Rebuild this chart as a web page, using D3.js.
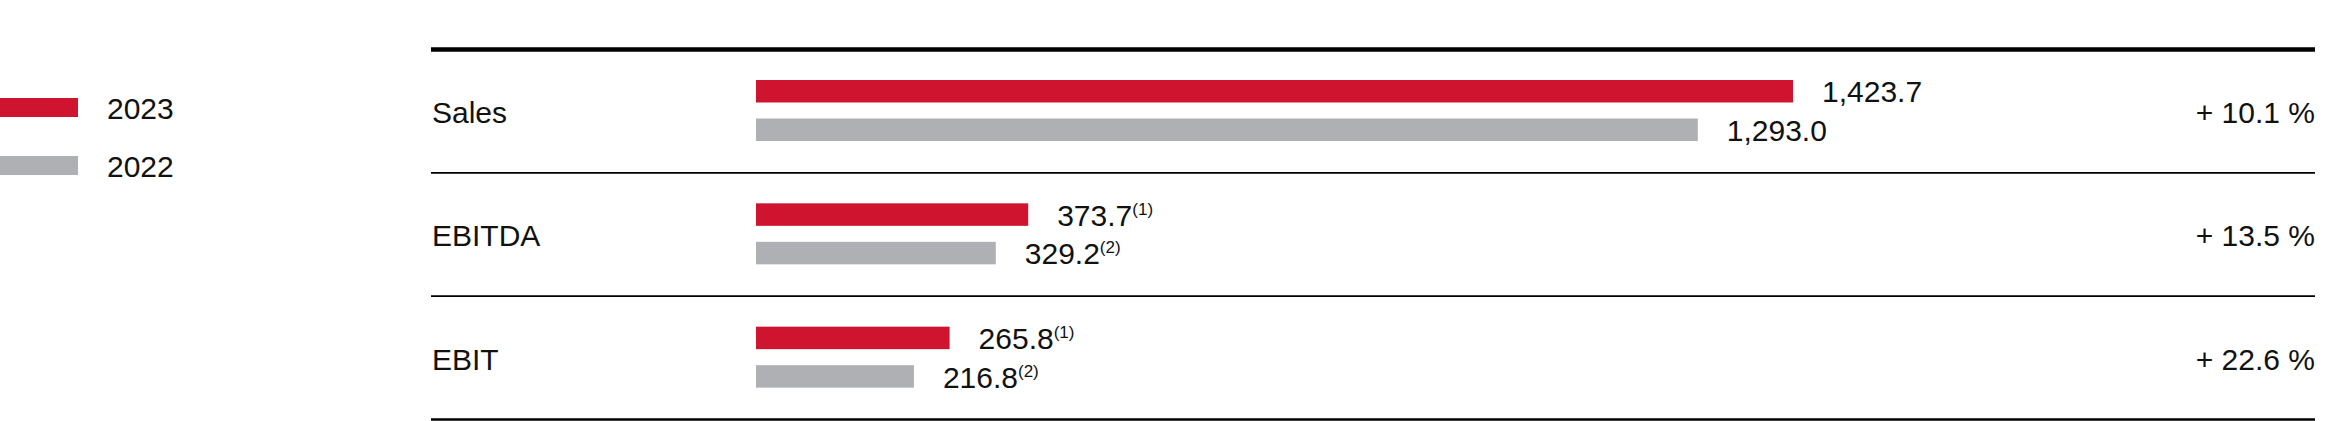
<!DOCTYPE html>
<html>
<head>
<meta charset="utf-8">
<script src="https://cdn.jsdelivr.net/npm/d3@7"></script>
<style>
  body { margin: 0; background: #fff; }
  text { font-family: "Liberation Sans", Arial, sans-serif; fill: #111; }
</style>
</head>
<body>
<svg id="chart"></svg>
<script>
const categories = ["Sales", "EBITDA", "EBIT"];
const years = ["2023", "2022"];
const values2023 = [1423.7, 373.7, 265.8];
const values2022 = [1293.0, 329.2, 216.8];
const notes2023 = ["", "(1)", "(1)"];
const notes2022 = ["", "(2)", "(2)"];
const changes = ["+ 10.1 %", "+ 13.5 %", "+ 22.6 %"];

const width = 2335, height = 421;
const colors = { "2023": "#cf1430", "2022": "#afb0b3" };

const svg = d3.select("#chart")
    .attr("width", width)
    .attr("height", height);

// rows
const y = d3.scaleBand()
    .domain(categories)
    .range([49.5, 419.5]);

// bars inside a row
const yInner = d3.scaleBand()
    .domain(years)
    .range([30.5, 91.5])
    .paddingInner(0.4156);

const x = d3.scaleLinear()
    .domain([0, d3.max(values2023)])
    .range([756, 1793]);

const fmt = d3.format(",.1f");

const rows = categories.map((c, i) => ({
    cat: c,
    change: changes[i],
    bars: [
        { year: "2023", value: values2023[i], note: notes2023[i] },
        { year: "2022", value: values2022[i], note: notes2022[i] }
    ]
}));

const lineLeft = 431, lineRight = 2315;

// horizontal rules
svg.append("line")
    .attr("x1", lineLeft).attr("x2", lineRight)
    .attr("y1", y.range()[0]).attr("y2", y.range()[0])
    .attr("stroke", "#000").attr("stroke-width", 4.5);

svg.selectAll(".sep")
    .data(categories.slice(1))
    .enter().append("line")
    .attr("class", "sep")
    .attr("x1", lineLeft).attr("x2", lineRight)
    .attr("y1", d => y(d)).attr("y2", d => y(d))
    .attr("stroke", "#000").attr("stroke-width", 1.6);

svg.append("line")
    .attr("x1", lineLeft).attr("x2", lineRight)
    .attr("y1", y.range()[1]).attr("y2", y.range()[1])
    .attr("stroke", "#000").attr("stroke-width", 2.7);

const row = svg.selectAll(".row")
    .data(rows)
    .enter().append("g")
    .attr("class", "row")
    .attr("transform", d => `translate(0,${y(d.cat)})`);

row.append("text")
    .attr("x", 432)
    .attr("y", y.bandwidth() / 2 + 12)
    .attr("font-size", 30)
    .text(d => d.cat);

row.append("text")
    .attr("x", lineRight)
    .attr("y", y.bandwidth() / 2 + 12)
    .attr("text-anchor", "end")
    .attr("font-size", 30)
    .text(d => d.change);

const bar = row.selectAll(".bar")
    .data(d => d.bars)
    .enter().append("g")
    .attr("class", "bar");

bar.append("rect")
    .attr("x", x(0))
    .attr("y", d => yInner(d.year))
    .attr("width", d => x(d.value) - x(0))
    .attr("height", yInner.bandwidth())
    .attr("fill", d => colors[d.year]);

const lbl = bar.append("text")
    .attr("x", d => x(d.value) + 29)
    .attr("y", d => yInner(d.year) + yInner.bandwidth())
    .attr("font-size", 30);

lbl.append("tspan").text(d => fmt(d.value));
lbl.append("tspan")
    .attr("font-size", 17)
    .attr("dy", -11)
    .text(d => d.note);

// legend
const legend = svg.selectAll(".legend")
    .data(years)
    .enter().append("g")
    .attr("class", "legend")
    .attr("transform", (d, i) => `translate(0,${98 + i * 58})`);

legend.append("rect")
    .attr("x", 0).attr("y", 0)
    .attr("width", 78).attr("height", 19)
    .attr("fill", d => colors[d]);

legend.append("text")
    .attr("x", 107)
    .attr("y", 21)
    .attr("font-size", 30)
    .text(d => d);
</script>
</body>
</html>
